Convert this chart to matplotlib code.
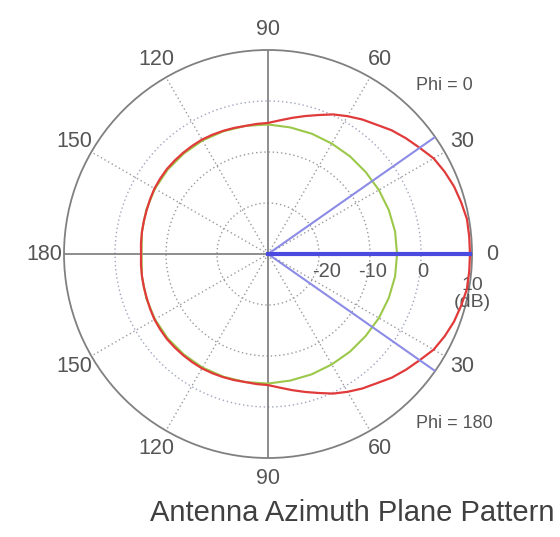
import numpy as np
import matplotlib.pyplot as plt

plt.rcParams['font.family'] = ['Liberation Sans', 'DejaVu Sans']

# pattern values (dB), 0..180 deg, mirrored for the lower half
red_deg = np.arange(0, 181, 5)
red_db = [9.6, 9.6, 9.6, 9.2, 8.8, 8.2, 7.5, 6.3, 5.3, 4.3,
          3.1, 2.2, 1.2, 0.2, -1.0, -2.0, -2.9, -3.7, -4.3,
          -4.4, -4.5, -4.4, -4.3, -4.2, -4.1, -4.1, -4.1, -4.1, -4.1,
          -4.2, -4.3, -4.5, -4.7, -4.8, -4.9, -5.0, -5.1]
green_deg = np.arange(0, 181, 10)
green_db = [-4.7, -4.7, -4.8, -4.9, -5.0, -5.0, -5.0, -4.9, -4.8, -4.6,
            -4.5, -4.4, -4.3, -4.3, -4.3, -4.4, -4.6, -4.9, -5.2]

tick_deg = list(range(0, 360, 30))
tick_lab = ['0', '30', '60', '90', '120', '150', '180', '150', '120', '90', '60', '30']
ring_db = [-20, -10, 0]
ring_lab = ['-20', '-10', '0']
beam_deg = [35, -35]
rmin, rmax = -30, 10


def mirror(deg, vals):
    deg = np.asarray(deg, float)
    vals = np.asarray(vals, float)
    d = np.concatenate([deg, 360 - deg[::-1][1:]])
    v = np.concatenate([vals, vals[::-1][1:]])
    return np.deg2rad(d), v


fig = plt.figure(figsize=(5.6, 5.37), dpi=100)
ax = fig.add_axes([0.1143, 0.1471, 0.7286, 0.7598], projection='polar')
ax.set_ylim(rmin, rmax)
ax.set_thetagrids(tick_deg, tick_lab)
ax.grid(False)
ax.set_yticks([])
ax.tick_params(axis='x', labelsize=15.5, labelcolor='#555555', pad=4)
ax.spines['polar'].set_color('#808080')
ax.spines['polar'].set_linewidth(1.3)

circ = np.linspace(0, 2 * np.pi, 361)
ring_col = ['#9a9a9a', '#9a9a9a', '#a0a6c0']
for r, c in zip(ring_db, ring_col):
    ax.plot(circ, np.full_like(circ, r), ls=(0, (1, 2)), color=c, lw=1, zorder=1)
for d in tick_deg:
    t = np.deg2rad(d)
    if d % 90 == 0:
        ax.plot([t, t], [rmin, rmax], color='#7a7a7a', lw=1.2, zorder=1)
    else:
        ax.plot([t, t], [rmin, rmax], ls=(0, (1, 2)), color='#9a9a9a', lw=1, zorder=1)

t, v = mirror(green_deg, green_db)
ax.plot(t, v, color='#9cc84a', lw=1.5, zorder=3)
t, v = mirror(red_deg, red_db)
ax.plot(t, v, color='#e03a3a', lw=1.6, zorder=4)

for d in beam_deg:
    b = np.deg2rad(d)
    ax.plot([b, b], [rmin, rmax], color='#8c8ce6', lw=1.5, zorder=5)
ax.plot([0, 0], [rmin, rmax], color='#4a4ae0', lw=3, zorder=6)

offs = [(8, -17), (3, -17), (2, -17)]
for r, lab, o in zip(ring_db, ring_lab, offs):
    ax.annotate(lab, xy=(0, r), xytext=o, textcoords='offset pixels',
                ha='center', va='center', fontsize=14.5, color='#555555')
ax.annotate('10\n(dB)', xy=(0, rmax), xytext=(0, -40), textcoords='offset pixels',
            ha='center', va='center', fontsize=14, color='#555555', linespacing=0.95)

fig.text(416 / 560, 1 - 85 / 537, 'Phi = 0', ha='left', va='center', fontsize=13, color='#555555')
fig.text(416 / 560, 1 - 423 / 537, 'Phi = 180', ha='left', va='center', fontsize=13, color='#555555')
fig.text(352 / 560, 1 - 513 / 537, 'Antenna Azimuth Plane Pattern', ha='center', va='center',
         fontsize=21, color='#404040')

fig.savefig('out.png', dpi=100, facecolor='white')
